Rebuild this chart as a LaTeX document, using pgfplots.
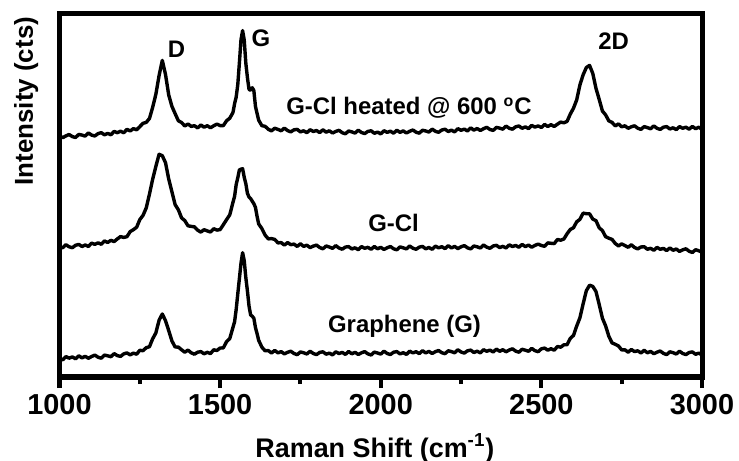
\documentclass[border=0pt]{standalone}
\usepackage{fontspec}
\setmainfont{Liberation Sans}
\usepackage{pgfplots}
\pgfplotsset{compat=1.18}
\usepackage{pgfplotstable}

\pgfplotstableread{
x T M B
1000 241.3 130.3 18.8
1010 239.3 129.2 17.1
1020 241.1 132.3 20.4
1030 242.5 130.2 18.8
1040 240.4 129.3 20.1
1050 239.5 131.7 18.2
1060 242.6 132.6 21.2
1070 241.9 130.5 19.1
1080 240.9 132.0 20.7
1090 244.0 130.5 18.7
1100 241.9 133.9 20.5
1110 241.0 132.6 21.9
1120 243.4 134.2 19.8
1130 244.3 132.7 18.8
1140 242.2 136.1 21.9
1150 243.6 134.5 21.2
1160 242.2 136.7 20.3
1170 245.6 135.4 23.4
1180 244.3 138.1 21.4
1190 245.8 140.4 20.6
1200 244.2 139.6 23.1
1210 247.7 140.3 24.1
1220 246.0 145.4 22.1
1230 248.4 147.3 23.9
1240 247.2 149.7 22.8
1250 250.4 157.4 26.7
1260 253.7 161.6 26.3
1270 254.6 169.1 29.3
1280 258.5 182.8 30.3
1290 269.7 197.8 38.2
1300 282.8 210.7 44.1
1310 301.5 222.7 56.8
1320 316.6 221.3 63.0
1330 302.5 214.3 56.3
1340 282.0 197.9 46.4
1350 270.6 185.2 36.0
1360 263.3 172.3 30.0
1370 256.2 167.2 29.9
1380 254.5 159.1 27.2
1390 251.0 156.4 24.8
1400 253.0 151.2 26.9
1410 250.6 150.6 24.2
1420 251.3 150.2 22.8
1430 249.1 146.8 24.8
1440 252.0 144.9 25.4
1450 249.8 147.3 23.2
1460 251.3 146.1 24.7
1470 249.2 145.0 23.4
1480 251.2 148.3 27.2
1490 252.9 146.9 26.5
1500 251.4 147.4 29.0
1510 251.4 152.3 29.1
1520 256.2 157.3 35.3
1530 258.8 162.1 38.4
1540 264.5 174.7 49.7
1545 273.3 180.6 55.2
1550 280.0 192.4 67.6
1555 292.5 199.3 83.2
1560 314.3 207.1 98.5
1565 337.3 207.8 113.9
1570 346.4 208.3 124.3
1575 337.0 199.8 116.5
1580 313.9 193.4 99.4
1585 299.3 183.7 86.0
1590 287.5 179.9 70.9
1595 286.8 178.4 62.0
1600 289.3 175.8 60.8
1605 286.4 173.3 58.7
1610 270.6 169.6 49.4
1615 263.6 160.6 43.4
1620 256.8 153.1 36.7
1630 251.3 148.4 29.8
1640 250.7 141.9 26.2
1650 247.7 138.1 26.4
1660 246.1 138.4 24.0
1670 248.8 137.6 26.6
1680 247.6 134.1 24.1
1690 246.2 134.4 25.4
1700 248.9 131.9 23.1
1710 246.4 134.4 24.7
1720 245.1 132.3 25.8
1730 247.2 132.9 23.5
1740 247.6 130.6 22.3
1750 245.1 133.2 25.1
1760 246.2 130.6 24.2
1770 244.3 131.8 23.0
1780 247.3 129.4 25.8
1790 245.5 130.9 23.5
1800 246.5 131.9 22.4
1810 244.4 129.5 24.6
1820 247.2 128.2 25.2
1830 244.8 131.0 22.8
1840 246.2 130.0 23.9
1850 244.0 128.6 22.1
1860 245.6 131.4 25.2
1870 246.7 129.0 23.5
1880 244.3 127.8 24.6
1890 243.2 129.9 22.6
1900 246.0 130.4 25.5
1910 245.1 128.0 23.2
1920 243.9 129.2 24.7
1930 246.8 127.3 22.5
1940 244.5 130.4 24.2
1950 243.4 128.7 25.4
1960 245.6 129.7 23.1
1970 246.2 127.7 22.0
1980 243.7 130.5 24.9
1990 244.9 128.2 24.0
2000 243.1 129.7 22.9
2010 246.3 127.5 25.8
2020 244.6 129.2 23.5
2030 245.8 130.5 22.5
2040 243.8 128.2 24.8
2050 246.8 127.2 25.4
2060 244.6 130.1 23.1
2070 246.1 129.2 24.3
2080 244.0 128.1 22.6
2090 245.7 131.0 25.8
2100 247.0 128.8 24.1
2110 244.8 127.7 25.3
2120 243.8 129.9 23.4
2130 246.8 130.6 26.3
2140 246.0 128.2 24.1
2150 244.9 129.5 25.6
2160 247.9 127.7 23.5
2170 245.7 130.9 25.3
2180 244.7 129.2 26.5
2190 247.0 130.3 24.3
2200 247.8 128.4 23.3
2210 245.5 131.3 26.2
2220 246.8 129.1 25.4
2230 245.1 130.6 24.2
2240 248.3 128.4 27.2
2250 246.7 130.2 25.0
2260 247.9 131.4 23.9
2270 246.0 129.2 26.2
2280 249.1 128.1 26.9
2290 246.9 131.0 24.5
2300 248.5 130.2 25.8
2310 246.5 129.0 24.1
2320 248.3 132.0 27.3
2330 249.7 129.8 25.7
2340 247.5 128.7 26.9
2350 246.6 131.0 25.0
2360 249.6 131.7 27.9
2370 248.9 129.4 25.7
2380 247.8 130.7 27.3
2390 250.9 129.0 25.2
2400 248.7 132.1 27.0
2410 247.8 130.5 28.2
2420 250.2 131.6 25.9
2430 251.0 129.7 24.8
2440 248.7 132.6 27.7
2450 250.1 130.4 26.8
2460 248.4 131.9 25.7
2470 251.6 129.8 28.6
2480 249.9 131.6 26.3
2490 251.1 132.9 25.3
2500 249.5 131.5 28.2
2510 252.6 130.7 28.9
2520 250.5 134.1 26.8
2530 252.3 133.7 28.3
2540 250.5 133.4 26.8
2550 252.8 137.5 30.5
2560 254.9 136.8 29.8
2570 254.2 138.0 32.2
2580 255.6 143.2 32.3
2590 262.9 147.5 38.6
2600 268.8 149.3 41.6
2610 277.2 155.2 51.0
2620 292.1 157.7 59.2
2630 302.2 163.9 73.2
2640 309.5 163.3 86.3
2650 311.6 163.2 91.8
2660 303.6 157.9 90.6
2670 288.6 156.3 85.5
2680 277.6 149.2 72.5
2690 266.0 146.4 58.8
2700 262.1 140.3 51.1
2710 256.1 138.8 40.7
2720 254.6 137.6 34.1
2730 251.1 133.5 32.7
2740 253.1 131.1 31.0
2750 250.2 133.1 27.1
2760 251.2 131.5 27.2
2770 248.7 129.7 24.8
2780 250.2 132.2 27.5
2790 251.2 129.5 25.4
2800 248.8 128.1 26.2
2810 247.6 130.0 24.0
2820 250.4 130.3 26.7
2830 249.4 127.7 24.2
2840 248.2 128.7 25.6
2850 251.1 126.7 23.3
2860 248.7 129.6 24.8
2870 247.6 127.7 26.0
2880 249.8 128.6 23.6
2890 250.4 126.4 22.4
2900 248.0 129.1 25.2
2910 249.2 126.7 24.3
2920 247.4 128.0 23.0
2930 250.4 125.6 25.8
2940 248.7 127.2 23.5
2950 249.8 128.2 22.4
2960 247.8 125.8 24.5
2970 250.6 124.5 25.1
2980 248.3 127.3 22.7
2990 249.8 126.2 23.9
3000 247.6 124.9 22.0
}\spectra

\begin{document}
\begin{tikzpicture}
\path[use as bounding box] (-29.75bp,-42bp) rectangle (339.75bp,188.5bp);
\begin{axis}[
  at={(0,0)}, anchor=south west,
  scale only axis,
  width=321.25bp, height=181.5bp,
  xmin=1000, xmax=3000, ymin=0, ymax=363,
  xtick={1000,1500,2000,2500,3000},
  xticklabels={1000,1500,2000,2500,3000},
  minor x tick num=1,
  ytick=\empty,
  tick align=outside,
  xtick pos=left,
  major tick length=5.5bp, minor tick length=3.5bp,
  axis line style={line width=2.5bp, line cap=rect},
  tick style={black, line width=2bp},
  xticklabel style={font=\fontsize{14.5}{14.5}\selectfont\bfseries, anchor=base, yshift=-13bp},
  xlabel={Raman Shift (cm\textsuperscript{-1})},
  xlabel style={font=\fontsize{13.5}{13.5}\selectfont\bfseries, at={(axis description cs:0.491,-0.2204)}, anchor=base},
  ylabel={Intensity (cts)},
  ylabel style={font=\fontsize{13}{13}\selectfont\bfseries, at={(axis description cs:-0.04125,0.760)}, anchor=base},
]
\addplot[black, line width=1.7bp, line join=round] table[x=x, y=T] {\spectra};
\addplot[black, line width=1.7bp, line join=round] table[x=x, y=M] {\spectra};
\addplot[black, line width=1.7bp, line join=round] table[x=x, y=B] {\spectra};

\node[font=\fontsize{12}{12}\selectfont\bfseries, inner sep=0pt, anchor=center] at (axis cs:1364,327.5) {D};
\node[font=\fontsize{12}{12}\selectfont\bfseries, inner sep=0pt, anchor=center] at (axis cs:1627,339) {G};
\node[font=\fontsize{12}{12}\selectfont\bfseries, inner sep=0pt, anchor=center] at (axis cs:2725,335.5) {2D};
\node[font=\fontsize{12}{12}\selectfont\bfseries, inner sep=0pt, anchor=base west] at (axis cs:1705,262) {G-Cl heated @ 600 \textsuperscript{o}C};
\node[font=\fontsize{12}{12}\selectfont\bfseries, inner sep=0pt, anchor=base west] at (axis cs:1960,145.3) {G-Cl};
\node[font=\fontsize{12}{12}\selectfont\bfseries, inner sep=0pt, anchor=base west] at (axis cs:1835,44.3) {Graphene (G)};
\end{axis}
\end{tikzpicture}
\end{document}
